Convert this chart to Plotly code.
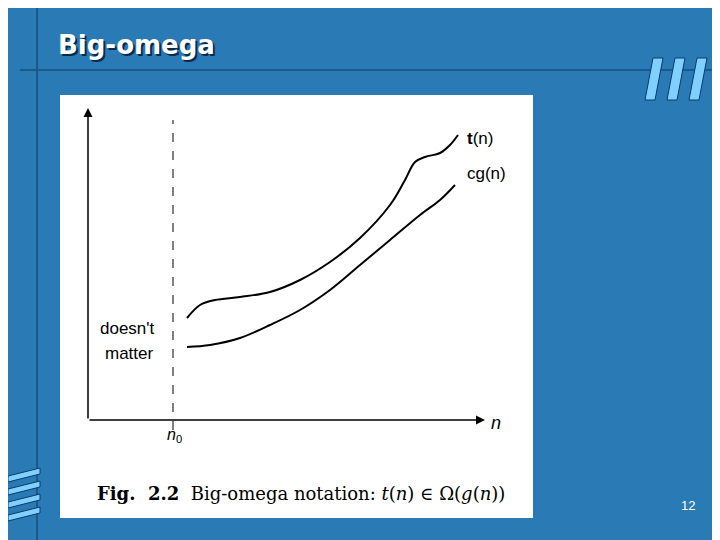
import plotly.graph_objects as go

# curve data (x = horizontal position, y = height)
t_x = [187, 200, 215, 240, 270, 300, 330, 360, 390, 405, 415, 425, 440, 450, 458]
t_y = [222, 235, 240, 243, 248, 260, 278, 302, 335, 360, 378, 383, 387, 395, 405]
cg_x = [187, 210, 240, 270, 300, 330, 360, 390, 420, 440, 455]
cg_y = [193, 195, 202, 215, 230, 250, 275, 300, 325, 340, 355]

n0 = 173
origin = (88, 120)
x_end = 485
y_end = 432

BG = "#2a7ab5"
fig = go.Figure()

fig.add_trace(go.Scatter(x=t_x, y=t_y, mode="lines", line=dict(color="black", width=2, shape="spline")))
fig.add_trace(go.Scatter(x=cg_x, y=cg_y, mode="lines", line=dict(color="black", width=2, shape="spline")))

shapes = [
    dict(type="rect", x0=60, x1=533, y0=22, y1=445,
         fillcolor="white", line=dict(width=0), layer="below"),
    dict(type="line", x0=n0, x1=n0, y0=110, y1=420,
         line=dict(color="black", width=1, dash="dash")),
    dict(type="line", x0=37, x1=37, y0=-20, y1=560, line=dict(color="#1a5a8a", width=2), layer="below"),
    dict(type="line", x0=20, x1=740, y0=470, y1=470, line=dict(color="#1a5a8a", width=2), layer="below"),
]
for i in range(3):
    x0 = 645 + i * 22
    shapes.append(dict(type="path",
                       path=f"M {x0+8},{540-58} L {x0+18},{540-58} L {x0+10},{540-100} L {x0},{540-100} Z",
                       fillcolor="#7fd0ff", line=dict(color="#0a3a6a", width=1)))
for i in range(4):
    y0 = 468 + i * 13
    shapes.append(dict(type="path",
                       path=f"M 8,{540-(y0+8)} L 40,{540-y0} L 40,{540-(y0+6)} L 8,{540-(y0+14)} Z",
                       fillcolor="#7fd0ff", line=dict(color="#0a3a6a", width=1)))
for s in shapes:
    s.update(xref="x", yref="y")
fig.update_layout(shapes=shapes)

arrow = dict(xref="x", yref="y", axref="x", ayref="y", showarrow=True, arrowhead=2,
             arrowsize=1.2, arrowwidth=1.5, arrowcolor="black", text="")
fig.add_annotation(x=x_end, y=origin[1], ax=origin[0], ay=origin[1], **arrow)
fig.add_annotation(x=origin[0], y=y_end, ax=origin[0], ay=origin[1], **arrow)

sans = dict(family="Liberation Sans", size=17, color="black")
texts = [
    (465, 402, "<b>t</b>(n)", sans),
    (465, 367, "cg(n)", sans),
    (98, 212, "doesn't", sans),
    (103, 187, "matter", sans),
    (489, 117, "<i>n</i>", dict(family="Liberation Sans", size=18, color="black")),
    (165, 105, "<i>n</i><sub>0</sub>", dict(family="Liberation Sans", size=16, color="black")),
    (95, 47, "<b>Fig.  2.2</b>  Big-omega notation: <i>t</i>(<i>n</i>) ∈ Ω(<i>g</i>(<i>n</i>))",
     dict(family="DejaVu Serif", size=18, color="black")),
    (688, 35, "12", dict(family="Liberation Sans", size=13, color="white")),
]
for x, y, s, f in texts:
    fig.add_annotation(x=x, y=y, text=s, showarrow=False, xanchor="center" if s == "12" else "left",
                       font=f, xref="x", yref="y")

for dx, col in ((2, "#0a2a4a"), (0, "white")):
    fig.add_annotation(x=56 + dx, y=495 - dx, xref="x", yref="y", text="<b>Big-omega</b>",
                       showarrow=False, xanchor="left", font=dict(family="DejaVu Sans", size=26, color=col))

fig.update_layout(
    width=720, height=540, margin=dict(l=0, r=0, t=0, b=0),
    paper_bgcolor=BG, plot_bgcolor=BG, showlegend=False,
    xaxis=dict(range=[8, 728], visible=False, fixedrange=True),
    yaxis=dict(range=[-8, 532], visible=False, fixedrange=True),
)
fig.write_html("out.html")
